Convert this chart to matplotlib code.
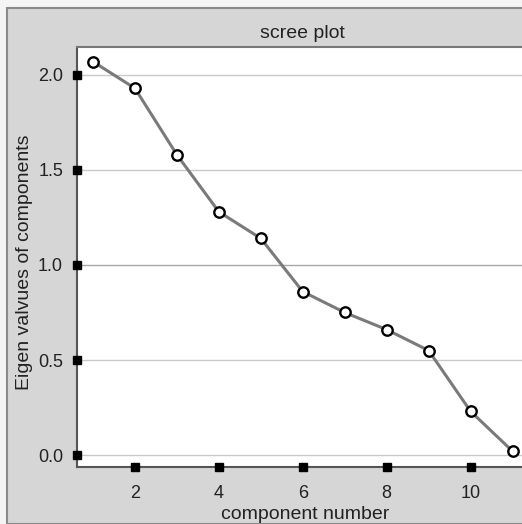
"""
Scree plot of the eigen values of the components
"""
import matplotlib.pyplot as plt
from matplotlib.patches import Rectangle

plt.rcParams["font.family"] = ["Liberation Sans", "DejaVu Sans"]

# data
components = [1, 2, 3, 4, 5, 6, 7, 8, 9, 10, 11]
eigen_values = [2.07, 1.93, 1.58, 1.28, 1.14, 0.86, 0.75, 0.66, 0.55, 0.23, 0.02]
x_ticks = [2, 4, 6, 8, 10]
y_ticks = [0.0, 0.5, 1.0, 1.5, 2.0]
y_tick_labels = ["0.0", "0.5", "1.0", "1.5", "2.0"]


def create_scree_plot(name="out"):
    fig = plt.figure(figsize=(5.22, 5.24), dpi=100)
    fig.patch.set_facecolor("#f4f4f4")
    # grey graph region with its frame, like the scanned figure
    fig.patches.append(Rectangle((7 / 522, 0), 1.0, 516 / 524,
                                 transform=fig.transFigure,
                                 facecolor="#d6d6d6", edgecolor="#8a8a8a",
                                 linewidth=1.5, zorder=-10))

    ax = fig.add_axes([77 / 522, 57 / 524, 1 - 77 / 522 + 0.01, 420 / 524])
    ax.set_facecolor("white")

    for y in y_ticks:
        ax.axhline(y, color="#c9c9c9" if y != 1.0 else "#a8a8a8",
                   linewidth=1.0, zorder=1)

    ax.plot(components, eigen_values, color="#7a7a7a", linewidth=2.2,
            marker="o", markersize=7.5, markerfacecolor="white",
            markeredgecolor="black", markeredgewidth=1.7, zorder=3,
            clip_on=False)

    ax.set_xlim(0.62, 11.35)
    ax.set_ylim(-0.063, 2.147)

    # square tick marks sitting on the axis lines
    ax.plot([0] * len(y_ticks), y_ticks, linestyle="none", marker="s",
            markersize=5.5, color="black", clip_on=False, zorder=4,
            transform=ax.get_yaxis_transform())
    ax.plot(x_ticks, [0] * len(x_ticks), linestyle="none", marker="s",
            markersize=5.5, color="black", clip_on=False, zorder=4,
            transform=ax.get_xaxis_transform())

    ax.set_xticks(x_ticks)
    ax.set_yticks(y_ticks)
    ax.set_yticklabels(y_tick_labels)
    ax.tick_params(length=0, labelsize=13, colors="#222222")
    ax.tick_params(axis="x", pad=13)
    ax.tick_params(axis="y", pad=10)

    for side in ["left", "bottom", "top"]:
        ax.spines[side].set_color("#555555")
        ax.spines[side].set_linewidth(1.5)
    ax.spines["top"].set_color("#777777")
    ax.spines["right"].set_visible(False)

    ax.set_xlabel("component number", fontsize=14, color="#222222")
    ax.set_ylabel("Eigen valvues of components", fontsize=14,
                  color="#222222")
    ax.xaxis.set_label_coords(0.506, -0.093)
    ax.yaxis.set_label_coords(-0.098, 0.488)
    fig.text(302 / 522, 1 - 33 / 524, "scree plot", fontsize=14,
             color="#222222", ha="center", va="center")

    plt.savefig(f"{name}.png", dpi=100, facecolor=fig.get_facecolor())


if __name__ == "__main__":
    create_scree_plot()
